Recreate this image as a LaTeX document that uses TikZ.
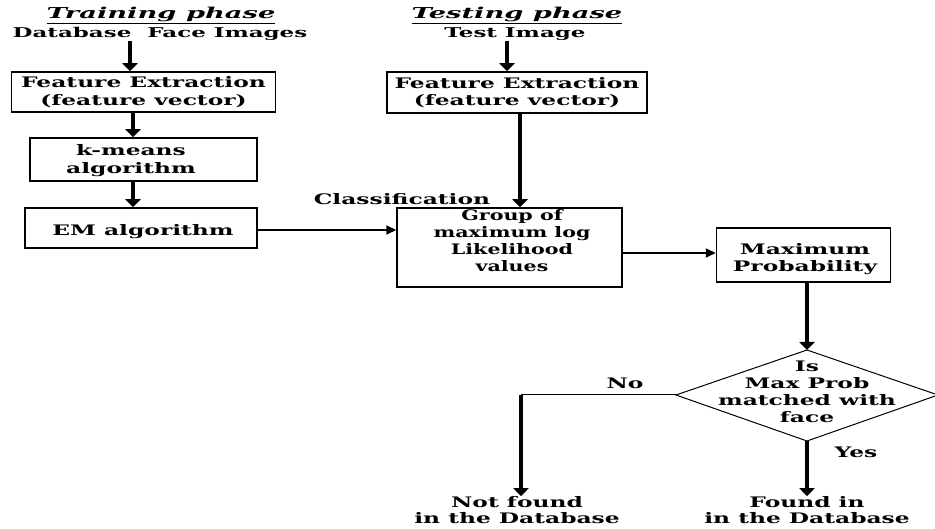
\documentclass[tikz,border=0pt]{standalone}
\usepackage{fontspec}
\setmainfont{DejaVu Serif}
\newfontfamily\bsf{DejaVu Serif Bold}[FakeStretch=1.61]
\newfontfamily\bsfg{DejaVu Serif Bold}[FakeStretch=1.42]
\newfontfamily\bsfh{DejaVu Serif Bold}[FakeStretch=1.7]
\newfontfamily\bisf{DejaVu Serif Bold Italic}[FakeStretch=1.82]
\usetikzlibrary{arrows.meta}
\begin{document}
\begin{tikzpicture}[x=1pt,y=-1pt,
  mfont/.style={font=\bsf\fontsize{14.5}{17.5}\selectfont},
  box/.style={draw, line width=1.5pt, inner sep=0pt, mfont, align=center},
  txt/.style={inner sep=0pt, mfont, align=center},
  head/.style={inner sep=0pt, font=\bisf\fontsize{15}{17}\selectfont},
  sub/.style={inner sep=0pt, font=\bsfh\fontsize{13.5}{15}\selectfont},
  arr/.style={line width=3.2pt, -{Triangle[width=15pt,length=8pt]}},
  harr/.style={line width=1.9pt, -{Triangle[width=9pt,length=10pt]}},
  thinl/.style={line width=1pt}]
\useasboundingbox (0,0) rectangle (935,529);

% headings
\node[head] (trh) at (161,15) {\underline{Training phase}};
\node[sub] (db) at (160,34) {Database\ \ Face Images};
\node[head] (tsh) at (517,15) {\underline{Testing phase}};
\node[sub] (ti) at (515,34) {Test Image};

% boxes
\node[box, minimum width=264pt, minimum height=40pt] (fe1) at (143.5,92) {Feature Extraction\\(feature vector)};
\node[box, minimum width=227pt, minimum height=43pt] (km) at (143.5,159.5) {};
\node[txt] (kmt) at (131,160.5) {k-means\\algorithm};
\node[box, minimum width=232pt, minimum height=40pt] (em) at (141,228) {};
\node[txt] (emt) at (143,232) {EM algorithm};
\node[box, minimum width=260pt, minimum height=41pt] (fe2) at (517,92.5) {Feature Extraction\\(feature vector)};
\node[box, minimum width=225pt, minimum height=79pt] (grp) at (509.5,247.5) {};
\node[txt, font=\bsfg\fontsize{14.5}{17}\selectfont] (grpt) at (512,241) {Group of\\maximum log\\Likelihood\\values};
\node[box, minimum width=174pt, minimum height=54pt] (mp) at (803.5,255) {};
\node[txt] (mpt) at (805,259) {Maximum\\Probability};

% diamond
\coordinate (dT) at (807,350);
\coordinate (dR) at (938,395);
\coordinate (dB) at (807,441);
\coordinate (dL) at (676,395);
\draw[thinl] (dT) -- (dR) -- (dB) -- (dL) -- cycle;
\node[txt, font=\bsf\fontsize{14.5}{17}\selectfont] (dtx) at (807,392) {Is\\Max Prob\\matched with\\face};

% labels
\node[txt] (cls) at (402,199) {Classification};
\node[txt] (no) at (625,383) {No};
\node[txt] (yes) at (856,452) {Yes};
\node[txt, font=\bsf\fontsize{14.5}{16}\selectfont] (nf) at (517,510) {Not found\\in the Database};
\node[txt, font=\bsf\fontsize{14.5}{16}\selectfont] (fi) at (807,510) {Found in\\in the Database};

% columns / rows
\coordinate (cA) at (130,0);
\coordinate (cB) at (133,0);
\coordinate (cC) at (507,0);
\coordinate (cD) at (520,0);
\coordinate (cE) at (807,0);
\coordinate (cF) at (521,395);
\coordinate (rA) at (0,230);
\coordinate (rB) at (0,253);

% connectors
\draw[arr] (db.south -| cA) -- (fe1.north -| cA);
\draw[arr] (fe1.south -| cB) -- (km.north -| cB);
\draw[arr] (km.south -| cB) -- (em.north -| cB);
\draw[arr] (ti.south -| cC) -- (fe2.north -| cC);
\draw[arr] (fe2.south -| cD) -- (grp.north -| cD);
\draw[harr] (em.east |- rA) -- (grp.west |- rA);
\draw[harr] (grp.east |- rB) -- (mp.west |- rB);
\draw[arr] (mp.south -| cE) -- (dT);
\draw[thinl] (dL) -- (cF);
\draw[arr] ([yshift=-0.5pt]cF) -- (nf.north -| cF);
\draw[arr] (dB) -- (fi.north -| cE);
\end{tikzpicture}
\end{document}
